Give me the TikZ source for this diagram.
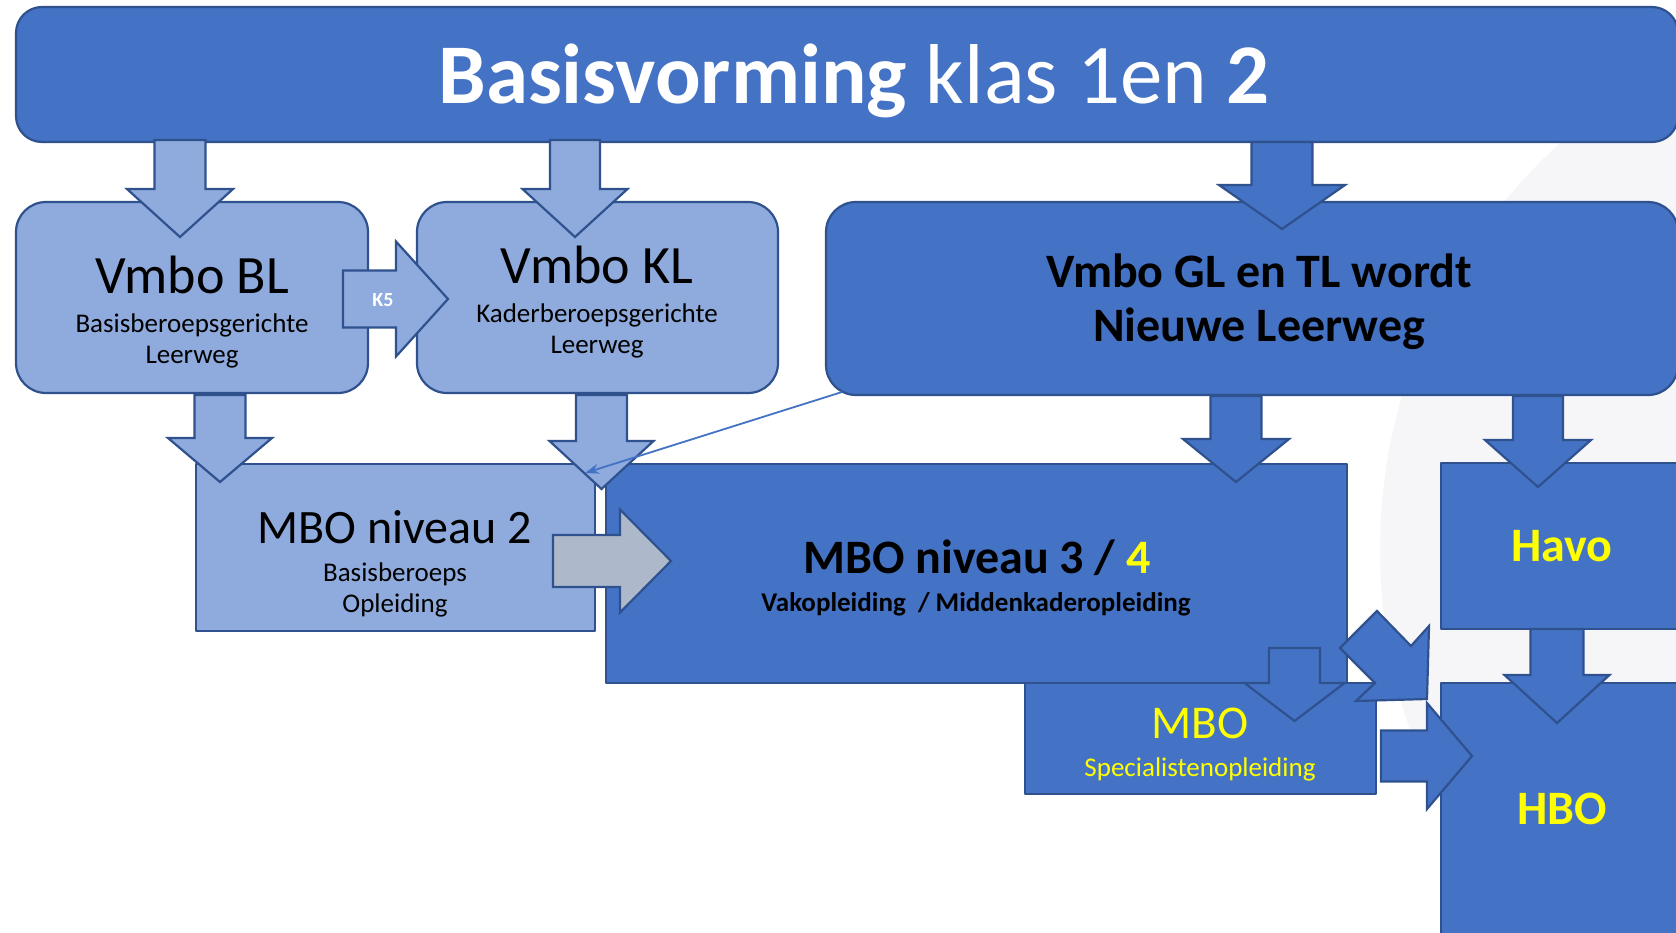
\documentclass[tikz,border=0pt]{standalone}
\usepackage{fontspec}
\setmainfont{Carlito}
\usetikzlibrary{arrows.meta,calc}
\definecolor{dkblue}{RGB}{68,114,196}
\definecolor{ltblue}{RGB}{143,170,220}
\definecolor{edgeblue}{RGB}{47,82,143}
\definecolor{grayarrow}{RGB}{173,185,202}
\definecolor{faintbg}{RGB}{246,246,249}
\definecolor{yel}{RGB}{255,255,0}
\newcommand{\fsz}[1]{\fontsize{#1}{#1}\selectfont}
% down block arrow: style, cx, shaft half, head half, ytop, ybase, ytip
\newcommand{\dnArr}[7]{\draw[#1] (#2-#3,#5) -- (#2+#3,#5) -- (#2+#3,#6) -- (#2+#4,#6) -- (#2,#7) -- (#2-#4,#6) -- (#2-#3,#6) -- cycle;}
% right block arrow: style, xleft, xbase, xtip, ycenter, shaft half, head half
\newcommand{\rtArr}[7]{\draw[#1] (#2,#5-#6) -- (#3,#5-#6) -- (#3,#5-#7) -- (#4,#5) -- (#3,#5+#7) -- (#3,#5+#6) -- (#2,#5+#6) -- cycle;}
\tikzset{
  dkbox/.style={draw=edgeblue, fill=dkblue, line width=2.2, inner sep=0, line join=round},
  ltbox/.style={draw=edgeblue, fill=ltblue, line width=2.2, inner sep=0, line join=round},
  dkarr/.style={draw=edgeblue, fill=dkblue, line width=2.2, line join=miter},
  ltarr/.style={draw=edgeblue, fill=ltblue, line width=2.2, line join=miter},
  grarr/.style={draw=edgeblue, fill=grayarrow, line width=2.2, line join=miter},
  txt/.style={anchor=base, inner sep=0},
  thinarrow/.style={draw=dkblue, line width=1.8, -{Stealth[length=14,width=10]}},
}
\begin{document}
\begin{tikzpicture}[x=1pt,y=-1pt]
\useasboundingbox (0,0) rectangle (1676,932);
\clip (0,0) rectangle (1676,932);
\fill[white] (0,0) rectangle (1676,932);
% faint background circle
\fill[faintbg] (1930,550) circle (550pt);

% banner
\node[dkbox, rounded corners=26, minimum width=1662, minimum height=135] (banner) at (847,74.5) {};

% top row boxes
\node[ltbox, rounded corners=30, minimum width=352, minimum height=191] (bl) at (192,297.5) {};
\node[ltbox, rounded corners=30, minimum width=361, minimum height=191] (kl) at (597.5,297.5) {};
\node[dkbox, rounded corners=30, minimum width=852, minimum height=193] (gl) at (1252,298.5) {};

% arrows from banner
\dnArr{ltarr}{180}{25.5}{53}{140}{189}{237}
\dnArr{ltarr}{575}{25}{52.5}{140}{189}{237}
\dnArr{dkarr}{1282}{30.5}{63}{142}{185}{229}

% K5 arrow
\rtArr{ltarr}{343}{396}{448}{299}{28.5}{57.5}

% lower boxes
\node[ltbox, minimum width=399, minimum height=167] (mbo2) at (395.5,547.5) {};
\node[dkbox, minimum width=741, minimum height=219] (mbo34) at (976.5,573.5) {};
\node[dkbox, minimum width=260, minimum height=166] (havo) at (1571,546) {};
\node[dkbox, minimum width=260, minimum height=270] (hbo) at (1571,818) {};
\node[dkbox, minimum width=351, minimum height=111] (spec) at (1200.5,738.5) {};

% arrows to lower row
\dnArr{ltarr}{220}{25.5}{52}{395}{438}{482}
\dnArr{ltarr}{601.5}{25.5}{52}{395}{441}{489}
\dnArr{dkarr}{1236}{25.5}{53}{396}{439}{482}
\dnArr{dkarr}{1538}{25}{53}{396}{440}{487}
\dnArr{dkarr}{1557}{26.5}{52.5}{629}{675}{723}
\dnArr{dkarr}{1294.5}{25.5}{50}{648}{683}{721}

% gray arrow MBO2 -> MBO 3/4
\rtArr{grarr}{553}{620}{671}{561}{26}{51.5}
% spec -> HBO
\rtArr{dkarr}{1381}{1427}{1472}{756}{25.5}{53}
% diagonal arrow MBO 3/4 -> HBO
\draw[dkarr] (1377,611) -- (1411,646) -- (1429,626) -- (1427,699) -- (1356,701) -- (1375,683) -- (1340,648) -- cycle;

% thin connector
\coordinate (lstart) at (842,392);
\coordinate (lend) at (585,473);
\draw[thinarrow] (lstart) -- (lend);

% texts
\node[txt, text=white, font=\fsz{85}] (title) at (854,103) {\textbf{Basisvorming} klas 1en \textbf{2}};

\node[txt, font=\fsz{54}] (blt) at (192,293) {Vmbo BL};
\node[txt, font=\fsz{27}] (bls1) at (192,332) {Basisberoepsgerichte};
\node[txt, font=\fsz{27}] (bls2) at (192,363) {Leerweg};

\node[txt, font=\fsz{54}] (klt) at (597,283) {Vmbo KL};
\node[txt, font=\fsz{27}] (kls1) at (597,322) {Kaderberoepsgerichte};
\node[txt, font=\fsz{27}] (kls2) at (597,353) {Leerweg};

\node[txt, text=white, font=\fsz{20}\bfseries] (k5) at (383,306) {K5};

\node[txt, font=\fsz{48}\bfseries] (glt1) at (1259,287) {Vmbo GL en TL wordt};
\node[txt, font=\fsz{48}\bfseries] (glt2) at (1259,341) {Nieuwe Leerweg};

\node[txt, font=\fsz{48}] (m2t) at (395,543) {MBO niveau 2};
\node[txt, font=\fsz{27}] (m2s1) at (395,581) {Basisberoeps};
\node[txt, font=\fsz{27}] (m2s2) at (395,612) {Opleiding};

\node[txt, font=\fsz{48}\bfseries] (m34t) at (977,573) {MBO niveau 3 / \textcolor{yel}{4}};
\node[txt, font=\fsz{27}\bfseries] (m34s) at (976,611) {Vakopleiding\ \ / Middenkaderopleiding};

\node[txt, text=yel, font=\fsz{48}\bfseries] (havot) at (1562,561) {Havo};
\node[txt, text=yel, font=\fsz{48}\bfseries] (hbot) at (1562,824) {HBO};

\node[txt, text=yel, font=\fsz{47}] (spect) at (1200,738) {MBO};
\node[txt, text=yel, font=\fsz{27}] (specs) at (1200,776) {Specialistenopleiding};
\end{tikzpicture}
\end{document}
